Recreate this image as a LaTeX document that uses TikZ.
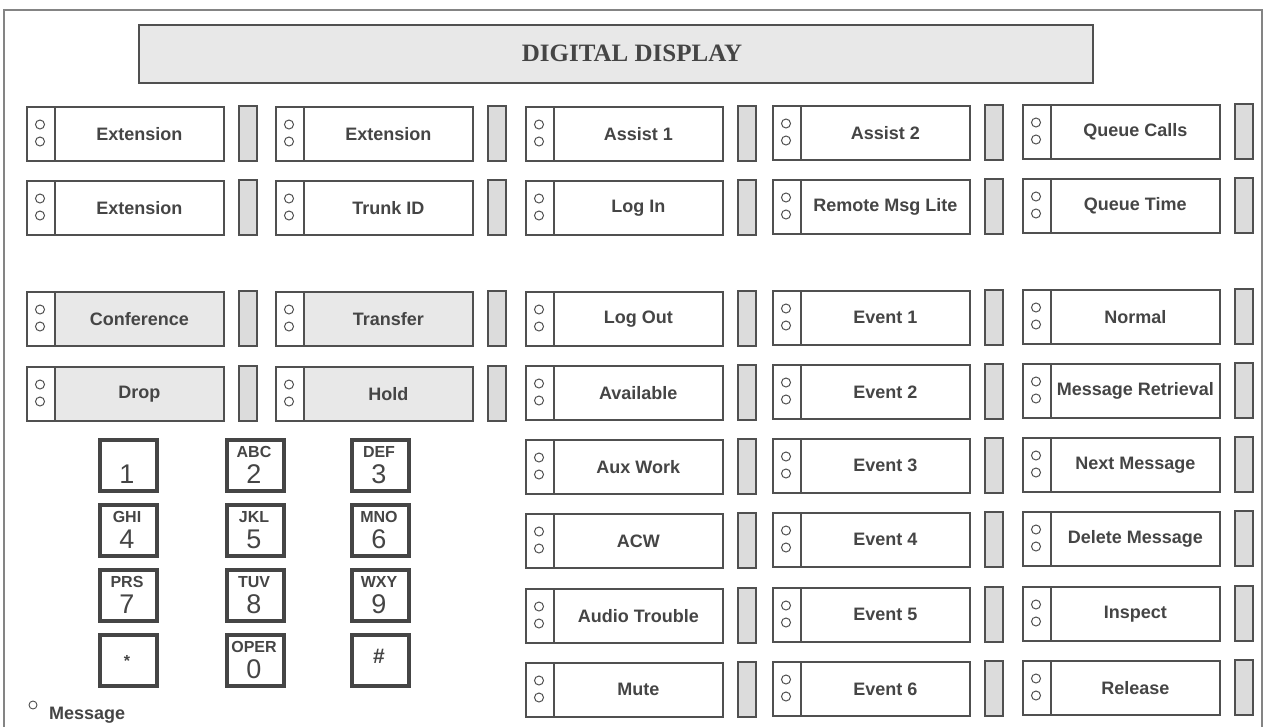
\documentclass[tikz,border=0pt]{standalone}
\usepackage{fontspec}
\newfontfamily\lsans{Liberation Sans}
\newfontfamily\lserif{Liberation Serif}
\definecolor{ink}{HTML}{505050}
\definecolor{txt}{HTML}{454545}
\definecolor{stip}{HTML}{DCDCDC}
\definecolor{stipl}{HTML}{E8E8E8}
\tikzset{
  frameline/.style={draw=ink!70, line width=1.1pt},
  ledbox/.style={draw=ink, line width=1.6pt, fill=white, minimum width=28pt, minimum height=54pt, anchor=north west, inner sep=0pt},
  lblbox/.style={draw=ink, line width=1.6pt, fill=white, minimum width=169pt, minimum height=54pt, anchor=north west, inner sep=0pt,
    font=\lsans\bfseries\fontsize{18}{20}\selectfont, text=txt},
  shaded/.style={fill=stipl},
  sidebar/.style={draw=ink, line width=1.6pt, fill=stip, minimum width=18pt, minimum height=55pt, anchor=north west, inner sep=0pt},
  lamp/.style={circle, draw=ink, line width=1pt, fill=white, minimum size=9pt, inner sep=0pt},
  keybox/.style={draw=txt, line width=4pt, fill=white, minimum width=57pt, minimum height=51pt, anchor=north west, inner sep=0pt},
  keylet/.style={font=\lsans\bfseries\fontsize{16}{17}\selectfont, text=txt, inner sep=0pt},
  keydig/.style={font=\lsans\fontsize{27}{28}\selectfont, text=txt, inner sep=0pt},
}
\newcommand\phbtn[5]{%
  \node[ledbox] (#1l) at (#2,#3) {};
  \node[lblbox,#5] (#1) at ({#2+28},#3) {#4};
  \node[lamp] (#1a) at ({#2+14},{#3+18.5}) {};
  \node[lamp] (#1b) at ({#2+14},{#3+35.5}) {};
  \node[sidebar] (#1s) at ({#2+212},{#3-1}) {};
}
\newcommand\phkey[5]{% name, x, y, letters, digit
  \node[keybox] (#1) at (#2,#3) {};
  \node[keylet] (#1t) at ({#2+29},{#3+14}) {#4};
  \node[keydig] (#1d) at ({#2+29},{#3+36}) {#5};
}
\begin{document}
\begin{tikzpicture}[x=1pt,y=-1pt]
\useasboundingbox (0,0) rectangle (1275,726);
\fill[white] (0,0) rectangle (1275,726);
% outer frame
\draw[frameline] (4,740) -- (4,10) -- (1262,10) -- (1262,740);
% display
\node[draw=ink, line width=1.6pt, fill=stipl, minimum width=954pt, minimum height=58pt, anchor=north west, inner sep=0pt] (disp) at (138,24) {};
\node[font=\lserif\bfseries\fontsize{25}{27}\selectfont, text=txt] (disptext) at (632,53) {DIGITAL DISPLAY};
% column 1
\phbtn{a1}{26}{106}{Extension}{}
\phbtn{a2}{26}{180}{Extension}{}
\phbtn{a3}{26}{291}{Conference}{shaded}
\phbtn{a4}{26}{366}{Drop}{shaded}
% column 2
\phbtn{b1}{275}{106}{Extension}{}
\phbtn{b2}{275}{180}{Trunk ID}{}
\phbtn{b3}{275}{291}{Transfer}{shaded}
\phbtn{b4}{275}{366}{Hold}{shaded}
% column 3
\phbtn{c1}{525}{106}{Assist 1}{}
\phbtn{c2}{525}{180}{Log In}{}
\phbtn{c3}{525}{291}{Log Out}{}
\phbtn{c4}{525}{365}{Available}{}
\phbtn{c5}{525}{439}{Aux Work}{}
\phbtn{c6}{525}{513}{ACW}{}
\phbtn{c7}{525}{588}{Audio Trouble}{}
\phbtn{c8}{525}{662}{Mute}{}
% column 4
\phbtn{d1}{772}{105}{Assist 2}{}
\phbtn{d2}{772}{179}{Remote Msg Lite}{}
\phbtn{d3}{772}{290}{Event 1}{}
\phbtn{d4}{772}{364}{Event 2}{}
\phbtn{d5}{772}{438}{Event 3}{}
\phbtn{d6}{772}{512}{Event 4}{}
\phbtn{d7}{772}{587}{Event 5}{}
\phbtn{d8}{772}{661}{Event 6}{}
% column 5
\phbtn{e1}{1022}{104}{Queue Calls}{}
\phbtn{e2}{1022}{178}{Queue Time}{}
\phbtn{e3}{1022}{289}{Normal}{}
\phbtn{e4}{1022}{363}{Message Retrieval}{}
\phbtn{e5}{1022}{437}{Next Message}{}
\phbtn{e6}{1022}{511}{Delete Message}{}
\phbtn{e7}{1022}{586}{Inspect}{}
\phbtn{e8}{1022}{660}{Release}{}
% keypad
\phkey{k1}{98}{438}{}{1}
\phkey{k2}{225}{438}{ABC}{2}
\phkey{k3}{350}{438}{DEF}{3}
\phkey{k4}{98}{503}{GHI}{4}
\phkey{k5}{225}{503}{JKL}{5}
\phkey{k6}{350}{503}{MNO}{6}
\phkey{k7}{98}{568}{PRS}{7}
\phkey{k8}{225}{568}{TUV}{8}
\phkey{k9}{350}{568}{WXY}{9}
\node[keybox] (k10) at (98,633) {};
\node[keylet] (k10d) at (127,661) {*};
\phkey{k11}{225}{633}{OPER}{0}
\node[keybox] (k12) at (350,633) {};
\node[keylet, font=\lsans\bfseries\fontsize{21}{22}\selectfont] (k12d) at (379,656) {\#};
% message lamp
\node[lamp, line width=0.9pt, minimum size=8pt] (msgl) at (33,705) {};
\node[anchor=west, font=\lsans\bfseries\fontsize{18}{20}\selectfont, text=txt, inner sep=0pt] (msg) at (49,715) {Message};
\end{tikzpicture}
\end{document}
